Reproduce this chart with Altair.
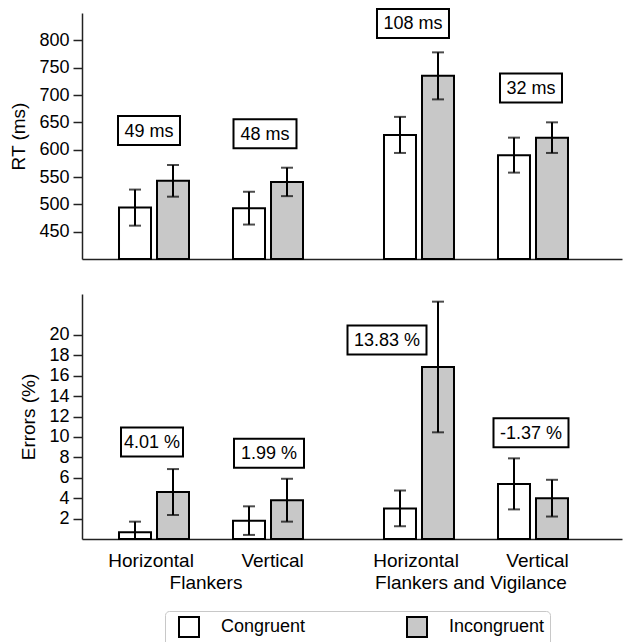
import altair as alt
import pandas as pd

FONT = "Liberation Sans"

# ---- data ----
experiments = ["Flankers", "Flankers and Vigilance"]
orientations = ["Horizontal", "Vertical"]
conditions = ["Congruent", "Incongruent"]

# order: Flankers-H, Flankers-V, F&V-H, F&V-V
rt_congruent = [494, 493, 627, 590]
rt_congruent_err = [33, 30, 33, 32]
rt_incongruent = [543, 541, 735, 622]
rt_incongruent_err = [29, 26, 43, 28]
rt_effect = ["49 ms", "48 ms", "108 ms", "32 ms"]
rt_effect_y = [635, 629, 831, 713]

er_congruent = [0.65, 1.8, 3.0, 5.4]
er_congruent_err = [1.05, 1.4, 1.75, 2.5]
er_incongruent = [4.6, 3.8, 16.85, 4.0]
er_incongruent_err = [2.25, 2.1, 6.4, 1.8]
er_effect = ["4.01 %", "1.99 %", "13.83 %", "-1.37 %"]
er_effect_y = [9.5, 8.4, 19.5, 10.4]

rt_domain = [400, 850]
er_domain = [0, 24]
rt_ticks = [450, 500, 550, 600, 650, 700, 750, 800]
er_ticks = [2, 4, 6, 8, 10, 12, 14, 16, 18, 20]

# annotation box styling (pixels): horizontal nudge from the congruent bar, box width
rt_box_dx = [14, 16, 13, 17]
rt_box_w = [62, 63, 72, 62]
er_box_dx = [17, 20, -13, 17]
er_box_w = [62, 70, 79, 75]
BOX_H = 29

slots = ["Horizontal|Congruent", "Horizontal|Incongruent", "spacer",
         "Vertical|Congruent", "Vertical|Incongruent"]


def build(cong, cong_err, inc, inc_err, labels, label_y, base):
    rows, lab = [], []
    for i in range(4):
        exp = experiments[i // 2]
        ori = orientations[i % 2]
        for cond, m, e in (("Congruent", cong[i], cong_err[i]),
                           ("Incongruent", inc[i], inc_err[i])):
            rows.append(dict(experiment=exp, slot=f"{ori}|{cond}", condition=cond,
                             mean=m, base=base, lo=max(base, m - e), hi=m + e))
        lab.append(dict(experiment=exp, slot=f"{ori}|Congruent",
                        label=labels[i], ly=label_y[i]))
    return pd.DataFrame(rows), pd.DataFrame(lab)


rt_df, rt_lab = build(rt_congruent, rt_congruent_err, rt_incongruent,
                      rt_incongruent_err, rt_effect, rt_effect_y, rt_domain[0])
er_df, er_lab = build(er_congruent, er_congruent_err, er_incongruent,
                      er_incongruent_err, er_effect, er_effect_y, er_domain[0])

W = 540
nb = "\u00a0" * 9


def box_path(w, dx):
    r = BOX_H / w
    d = 2 * dx / w
    return (f"M{d-1:.4f},{-r:.4f}L{d+1:.4f},{-r:.4f}"
            f"L{d+1:.4f},{r:.4f}L{d-1:.4f},{r:.4f}Z")


def panel(df, lab, title, domain, ticks, height, bottom, box_dx, box_w):
    if bottom:
        xaxis = alt.Axis(title=None, ticks=False, domain=True, labelAngle=0,
                         labelExpr=f"['Horizontal{nb}Vertical', datum.label]",
                         labelFontSize=19, labelPadding=12, labelLineHeight=22,
                         labelBaseline="top", labelLimit=0, labelOffset=-5)
    else:
        xaxis = alt.Axis(title=None, ticks=False, labels=False, domain=True)
    yaxis = alt.Axis(values=ticks, title=title, grid=False, tickSize=9,
                     labelPadding=4, titlePadding=10)
    xs = alt.Scale(domain=experiments, paddingInner=0.283, paddingOuter=0.1604, align=0.4)
    x = alt.X("experiment:N", scale=xs, axis=xaxis)
    xo = alt.XOffset("slot:N", scale=alt.Scale(domain=slots, paddingInner=0.158,
                                                paddingOuter=0.079))
    ys = alt.Scale(domain=domain, zero=False, nice=False)

    def Y(field):
        return alt.Y(field, scale=ys, axis=yaxis)

    fill = alt.Fill("condition:N",
                    scale=alt.Scale(domain=conditions, range=["white", "#c8c8c8"]),
                    legend=None if bottom else alt.Legend(
                        orient="none", legendX=83, legendY=598, direction="horizontal",
                        title="\u00a0", titleOrient="left", titlePadding=8, titleFontSize=6,
                        symbolType="square", symbolSize=400, symbolStrokeWidth=2,
                        symbolStrokeColor="black", labelFontSize=18, labelFont=FONT,
                        labelOffset=21, columnPadding=97, padding=5,
                        strokeColor="#c8c8c8", fillColor="white", cornerRadius=4,
                        labelLimit=0))
    layers = [
        alt.Chart(df).mark_bar(stroke="black", strokeWidth=2).encode(
            x=x, xOffset=xo, y=Y("mean:Q"), y2="base:Q", fill=fill),
        alt.Chart(df).mark_rule(strokeWidth=2, color="black").encode(
            x=x, xOffset=xo, y=Y("lo:Q"), y2="hi:Q"),
        alt.Chart(df).mark_tick(orient="horizontal", size=12, thickness=2,
                                color="black").encode(x=x, xOffset=xo, y=Y("hi:Q")),
        alt.Chart(df).mark_tick(orient="horizontal", size=12, thickness=2,
                                color="black").encode(x=x, xOffset=xo, y=Y("lo:Q")),
    ]
    for i in range(len(lab)):
        one = lab.iloc[[i]]
        w, dx = box_w[i], box_dx[i]
        layers.append(
            alt.Chart(one).mark_point(shape=box_path(w, dx), size=w * w, filled=True,
                                      fill="white", stroke="black", strokeWidth=2,
                                      opacity=1).encode(x=x, xOffset=xo, y=Y("ly:Q")))
        layers.append(
            alt.Chart(one).mark_text(dx=dx, dy=1, fontSize=18, font=FONT, color="black",
                                     baseline="middle").encode(
                x=x, xOffset=xo, y=Y("ly:Q"), text="label:N"))
    return alt.layer(*layers).properties(width=W, height=height)


top = panel(rt_df, rt_lab, "RT (ms)", rt_domain, rt_ticks, 246, False, rt_box_dx, rt_box_w)
bot = panel(er_df, er_lab, "Errors (%)", er_domain, er_ticks, 245, True, er_box_dx, er_box_w)

chart = alt.vconcat(top, bot, spacing=34).properties(
    padding={"left": 1, "top": -4, "right": 2, "bottom": 2}
).configure_view(stroke=None).configure_axis(
    labelFont=FONT, titleFont=FONT, labelFontSize=18, titleFontSize=19,
    titleFontWeight="normal", labelColor="black", titleColor="black",
    domainColor="#222", domainWidth=1.5, tickColor="#222", tickWidth=1.5
)

chart.save("out.html", embed_options={"renderer": "svg", "actions": False})
